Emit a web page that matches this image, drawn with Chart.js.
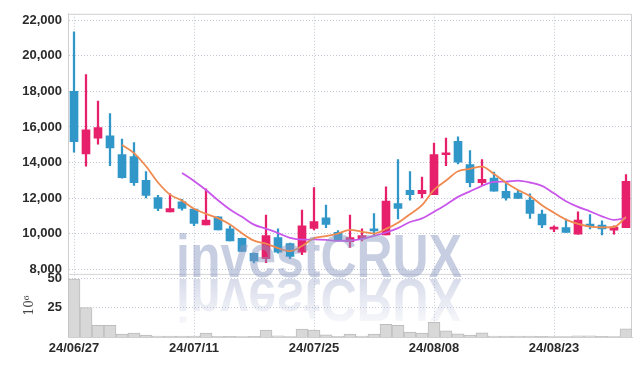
<!DOCTYPE html>
<html><head><meta charset="utf-8">
<script src="https://cdn.jsdelivr.net/npm/chart.js@4.4.1/dist/chart.umd.min.js"></script>
<style>html,body{margin:0;padding:0;background:#fff;}#wrap{width:642px;height:366px;}</style>
</head><body><div id="wrap"><canvas id="c" width="642" height="366"></canvas></div>
<script>
const dates = ["24/06/27","24/06/28","24/07/01","24/07/02","24/07/03","24/07/04","24/07/05","24/07/08","24/07/09","24/07/10",
"24/07/11","24/07/12","24/07/15","24/07/16","24/07/17","24/07/18","24/07/19","24/07/22","24/07/23","24/07/24",
"24/07/25","24/07/26","24/07/29","24/07/30","24/07/31","24/08/01","24/08/02","24/08/05","24/08/06","24/08/07",
"24/08/08","24/08/09","24/08/12","24/08/13","24/08/14","24/08/16","24/08/19","24/08/20","24/08/21","24/08/22",
"24/08/23","24/08/26","24/08/27","24/08/28","24/08/29","24/08/30","24/09/02"];
const openP  = [18000,14480,15370,15500,14450,14340,13000,12030,11230,11790,11380,10490,10950,10270,9740,8900,8600,9780,9450,8970,10300,10900,10080,9560,9710,10270,9940,11700,12440,12250,12200,14440,15190,13890,12870,13130,12390,12290,11890,11100,10260,10340,9970,10550,10490,10200,10340];
const highP  = [21350,18940,17450,16750,15320,15130,13500,12160,12250,11940,11420,12530,10960,10450,9760,8930,11050,10270,9470,11330,12590,11610,10180,11050,10270,11140,12630,14170,13500,13180,15090,15370,15450,14670,14170,13460,12870,12440,12250,11330,10450,10830,11230,11080,10720,10450,13330];
const lowP   = [14580,13800,15040,13830,13120,12720,12010,11290,11230,11330,10450,10490,10210,9600,8990,8360,8380,8910,8600,8820,10210,10340,9600,9230,9600,9940,9940,10830,11890,12010,12200,13830,13920,12630,12720,12390,11890,11980,10860,10340,10120,10080,9970,10270,9940,9970,10340];
const closeP = [15170,15840,15970,14820,13150,12870,12160,11420,11420,11420,10580,10770,10210,9600,9010,8480,9900,8970,8730,10450,10680,10530,9660,9790,9900,10160,11830,11420,12200,12440,14450,14460,14020,12870,13060,12390,12010,11980,11140,10490,10280,10080,10770,10400,10270,10380,12940];
const volumeM = [49.2,25.0,10.0,10.0,2.5,3.3,1.7,0.8,0.7,0.7,0.7,3.3,0.6,0.5,0.4,0.5,5.8,1.1,0.4,6.7,5.8,1.9,0.6,2.5,0.8,2.5,10.8,10.0,4.2,3.3,12.5,5.2,2.7,1.7,3.6,0.8,0.7,0.7,0.7,0.5,0.3,0.3,1.0,1.0,0.5,0.3,6.9];
const ma5  = [null,null,null,null,14990,14530,13790,12880,12200,11860,11400,11120,10880,10520,10030,9610,9440,9190,9020,9310,9750,9870,10010,10220,10110,10010,10270,10620,11100,11610,12470,12990,13510,13650,13770,13360,12870,12460,12120,11600,11180,10790,10550,10400,10360,10380,10950];
const ma10 = [null,null,null,null,null,null,null,null,null,13420,12970,12460,11880,11360,10950,10510,10280,10040,9770,9670,9680,9660,9600,9620,9710,9880,10070,10320,10660,10860,11240,11630,12070,12380,12690,12910,12930,12990,12880,12690,12270,11830,11510,11260,10980,10780,10870];
const priceTicks = [8000,10000,12000,14000,16000,18000,20000,22000];
const volumeTicks = [25,50];
const xLabelEvery = 10;

const UP = '#e6206b', DOWN = '#3197c9';
const candleColors = closeP.map((c,i)=> c >= openP[i] ? UP : DOWN);
const tickFont = {family:'"Liberation Sans", Arial, sans-serif', size:13, weight:'bold'};
const GRID = '#c5cad6';

const frame = {
  id:'frame',
  beforeDatasetsDraw(chart){
    const {ctx, chartArea:a} = chart;
    const yv = chart.scales.yv;
    ctx.save();
    ctx.strokeStyle = '#d4d4d4'; ctx.lineWidth = 1;
    ctx.beginPath();
    ctx.moveTo(a.left, yv.top + 0.5); ctx.lineTo(a.right, yv.top + 0.5);
    ctx.stroke();
    ctx.strokeStyle = '#cfcfcf';
    ctx.beginPath();
    ctx.moveTo(a.left, a.top + 0.5); ctx.lineTo(a.right - 0.5, a.top + 0.5); ctx.lineTo(a.right - 0.5, a.bottom);
    ctx.stroke();
    ctx.restore();
  },
  afterDatasetsDraw(chart){
    const {ctx} = chart;
    const text = 'investCRUX';
    ctx.save();
    ctx.font = 'bold 62px "Liberation Sans", Arial, sans-serif';
    const w = ctx.measureText(text).width;
    ctx.translate(319, 277);
    ctx.scale(286 / w, 1);
    ctx.textAlign = 'center'; ctx.textBaseline = 'alphabetic';
    ctx.fillStyle = 'rgba(140,152,195,0.48)';
    ctx.fillText(text, 0, 0);
    ctx.scale(1, -1);
    const g = ctx.createLinearGradient(0, -2, 0, -48);
    g.addColorStop(0, 'rgba(140,152,195,0.34)');
    g.addColorStop(1, 'rgba(140,152,195,0.06)');
    ctx.fillStyle = g;
    ctx.fillText(text, 0, -2);
    ctx.restore();
  }
};

new Chart(document.getElementById('c'), {
  type:'bar',
  data:{
    labels: dates,
    datasets:[
      {type:'line', label:'MA5', data:ma5, yAxisID:'y', borderColor:'#ef8a50', borderWidth:1.8, pointRadius:0, cubicInterpolationMode:'monotone', order:0},
      {type:'line', label:'MA10', data:ma10, yAxisID:'y', borderColor:'#c957eb', borderWidth:1.8, pointRadius:0, cubicInterpolationMode:'monotone', order:0},
      {label:'body', data:openP.map((o,i)=>[o, closeP[i]]), yAxisID:'y', backgroundColor:candleColors, barThickness:8, minBarLength:2, grouped:false, order:1},
      {label:'wick', data:lowP.map((l,i)=>[l, highP[i]]), yAxisID:'y', backgroundColor:candleColors, barThickness:1.6, grouped:false, order:2},
      {label:'volume', data:volumeM, yAxisID:'yv', backgroundColor:'#d8d8d8', borderColor:'#bdbdbd', borderWidth:1, barPercentage:1, categoryPercentage:1, grouped:false, order:3}
    ]
  },
  options:{
    responsive:false, animation:false, devicePixelRatio:1,
    layout:{padding:{top:9, right:10, left:0, bottom:0}},
    plugins:{legend:{display:false}, tooltip:{enabled:false}},
    scales:{
      x:{
        type:'category', offset:true,
        afterBuildTicks(s){ s.ticks = s.ticks.filter(t => t.value % xLabelEvery === 0); },
        afterFit(s){ s.height = 29; },
        grid:{offset:false, color:GRID, drawTicks:false},
        border:{display:true, color:'#cfcfcf', dash:[1,2]},
        ticks:{autoSkip:false, maxRotation:0, padding:4, font:tickFont, color:'#2b2b2b'}
      },
      yv:{
        position:'left', stack:'s', stackWeight:1, min:0, max:53.7,
        afterBuildTicks(s){ s.ticks = volumeTicks.map(v => ({value:v})); },
        afterFit(s){ s.width = 68; },
        grid:{color:GRID, drawTicks:false},
        border:{display:true, color:'#cfcfcf', dash:[1,2]},
        ticks:{autoSkip:false, padding:6, font:tickFont, color:'#2b2b2b'},
        title:{display:true, text:'10⁶', color:'#444', font:{family:'"DejaVu Serif", serif', size:12}, padding:{top:23, bottom:0}}
      },
      y:{
        position:'left', stack:'s', stackWeight:4.12, min:7745, max:22360,
        afterBuildTicks(s){ s.ticks = priceTicks.map(v => ({value:v})); },
        afterFit(s){ s.width = 68; },
        grid:{color:GRID, drawTicks:false},
        border:{display:true, color:'#cfcfcf', dash:[1,2]},
        ticks:{autoSkip:false, padding:6, font:tickFont, color:'#2b2b2b', callback:v => v.toLocaleString('en-US')}
      }
    }
  },
  plugins:[frame]
});
</script></body></html>
